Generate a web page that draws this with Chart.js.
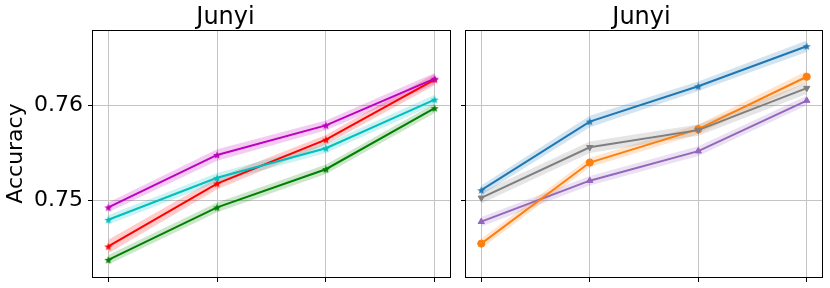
<!DOCTYPE html>
<html>
<head>
<meta charset="utf-8">
<script src="https://cdn.jsdelivr.net/npm/chart.js@4"></script>
<style>
  body { margin: 0; background: #fff; width: 830px; height: 288px; overflow: hidden; }
  canvas { position: absolute; top: 0; }
  #left { left: 0; }
  #right { left: 460px; }
</style>
</head>
<body>
<canvas id="left" width="460" height="288"></canvas>
<canvas id="right" width="370" height="288"></canvas>
<script>
// x positions (4 steps, no labels shown)
var steps = [0, 1, 2, 3];
var yTicks = [0.75, 0.76];
var panelTitle = "Junyi";
var yLabel = "Accuracy";

// left panel
var magentaMean = [0.7493, 0.7548, 0.7579, 0.7628];
var magentaErr  = [0.0005, 0.0006, 0.0005, 0.0006];
var cyanMean    = [0.7480, 0.7524, 0.7555, 0.7606];
var cyanErr     = [0.0005, 0.0005, 0.0005, 0.0005];
var redMean     = [0.7452, 0.7518, 0.7564, 0.7627];
var redErr      = [0.0007, 0.0006, 0.0005, 0.0006];
var greenMean   = [0.7438, 0.7493, 0.7533, 0.7597];
var greenErr    = [0.0005, 0.0005, 0.0005, 0.0005];

// right panel
var blueMean    = [0.7511, 0.7583, 0.7620, 0.7662];
var blueErr     = [0.0005, 0.0006, 0.0005, 0.0006];
var grayMean    = [0.7503, 0.7556, 0.7574, 0.7618];
var grayErr     = [0.0006, 0.0006, 0.0006, 0.0006];
var orangeMean  = [0.7455, 0.7540, 0.7575, 0.7630];
var orangeErr   = [0.0005, 0.0005, 0.0005, 0.0006];
var purpleMean  = [0.7478, 0.7521, 0.7552, 0.7605];
var purpleErr   = [0.0005, 0.0005, 0.0005, 0.0005];

var FONT = "'DejaVu Sans', sans-serif";

function makeStar(color) {
    var c = document.createElement("canvas");
    c.width = 10; c.height = 10;
    var ctx = c.getContext("2d");
    ctx.fillStyle = color;
    ctx.beginPath();
    for (let i = 0; i < 10; i++) {
        let rad = i % 2 === 0 ? 4.2 : 1.8;
        let a = -Math.PI / 2 + i * Math.PI / 5;
        let px = 5 + rad * Math.cos(a), py = 5.4 + rad * Math.sin(a);
        if (i === 0) ctx.moveTo(px, py); else ctx.lineTo(px, py);
    }
    ctx.closePath();
    ctx.fill();
    return c;
}

function pts(vals) {
    return vals.map((v, i) => ({ x: steps[i], y: v }));
}

function series(color, band, mean, err, style, rot) {
    let line = {
        data: pts(mean),
        borderColor: color,
        backgroundColor: color,
        borderWidth: 2,
        pointStyle: style === "star" ? makeStar(color) : style,
        pointRotation: rot || 0,
        pointRadius: 3.6,
        pointBorderWidth: 1,
        fill: false,
        tension: 0
    };
    let upper = {
        data: pts(mean.map((v, i) => v + err[i])),
        borderWidth: 0,
        pointRadius: 0,
        fill: false
    };
    let lower = {
        data: pts(mean.map((v, i) => v - err[i])),
        borderWidth: 0,
        pointRadius: 0,
        backgroundColor: band,
        fill: "-1"
    };
    return [line, upper, lower];
}

var frame = {
    id: "frame",
    afterDraw(chart) {
        let a = chart.chartArea, ctx = chart.ctx;
        ctx.save();
        ctx.strokeStyle = "#000";
        ctx.lineWidth = 1;
        ctx.strokeRect(Math.round(a.left) + 0.5, Math.round(a.top) + 0.5,
                       Math.round(a.right - a.left) - 1, Math.round(a.bottom - a.top));
        ctx.restore();
    }
};

function makeChart(id, datasets, yWidth, rightPad, showY) {
    // lines first so they sit on top; then the bands
    let lines = [], bands = [];
    datasets.forEach(d => { lines.push(d[0]); bands.push(d[1], d[2]); });
    let all = lines.concat(bands);
    // lower band fills to its own upper band, just before it
    all.forEach((d, i) => { if (d.fill === "-1") d.fill = i - 1; });

    return new Chart(document.getElementById(id), {
        type: "line",
        data: { datasets: all },
        plugins: [frame],
        options: {
            responsive: false,
            animation: false,
            devicePixelRatio: 1,
            layout: { padding: { left: 0, right: rightPad, top: 0, bottom: 0 } },
            plugins: {
                legend: { display: false },
                tooltip: { enabled: false },
                title: {
                    display: true,
                    text: panelTitle,
                    color: "#000",
                    font: { family: FONT, size: 24, weight: "normal", lineHeight: 1 },
                    padding: { top: 6, bottom: 0 }
                }
            },
            scales: {
                x: {
                    type: "linear",
                    min: -0.15,
                    max: 3.15,
                    afterBuildTicks: s => { s.ticks = steps.map(v => ({ value: v })); },
                    afterFit: s => { s.height = 11; s.paddingLeft = 0; s.paddingRight = 0; },
                    ticks: { display: false },
                    border: { display: false },
                    grid: { color: "#c4c4c4", lineWidth: 1, tickColor: "#000", tickLength: 5 }
                },
                y: {
                    min: 0.7420,
                    max: 0.7679,
                    afterBuildTicks: s => { s.ticks = yTicks.map(v => ({ value: v })); },
                    afterFit: s => { s.width = yWidth; s.paddingTop = 0; s.paddingBottom = 0; },
                    ticks: {
                        display: showY,
                        color: "#000",
                        padding: 5,
                        font: { family: FONT, size: 22 },
                        callback: v => v.toFixed(2)
                    },
                    title: {
                        display: showY,
                        text: yLabel,
                        color: "#000",
                        font: { family: FONT, size: 22 },
                        padding: { top: 3, bottom: 0 }
                    },
                    border: { display: false },
                    grid: { color: "#c4c4c4", lineWidth: 1, tickColor: "#000", tickLength: 4 }
                }
            }
        }
    });
}

makeChart("left", [
    series("#bf00bf", "rgba(191,0,191,0.2)", magentaMean, magentaErr, "star"),
    series("#00bfbf", "rgba(0,191,191,0.2)", cyanMean, cyanErr, "star"),
    series("#ff0000", "rgba(255,0,0,0.2)", redMean, redErr, "star"),
    series("#008000", "rgba(0,128,0,0.2)", greenMean, greenErr, "star")
], 92, 9, true);

makeChart("right", [
    series("#1f77b4", "rgba(31,119,180,0.2)", blueMean, blueErr, "star"),
    series("#7f7f7f", "rgba(127,127,127,0.2)", grayMean, grayErr, "triangle", 180),
    series("#ff7f0e", "rgba(255,127,14,0.2)", orangeMean, orangeErr, "circle"),
    series("#9467bd", "rgba(148,103,189,0.2)", purpleMean, purpleErr, "triangle")
], 4, 7, false);
</script>
</body>
</html>
